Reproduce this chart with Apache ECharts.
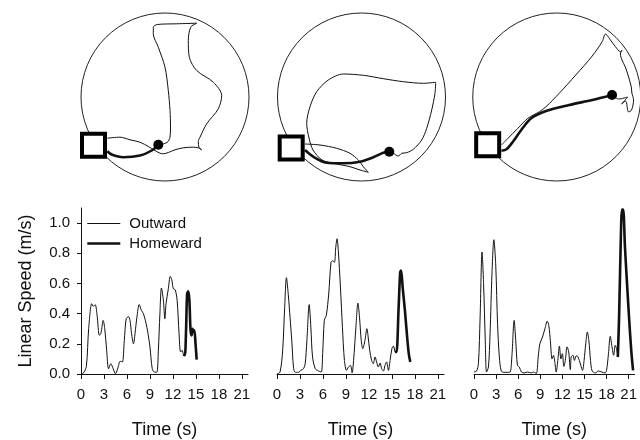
<!DOCTYPE html>
<html>
<head>
<meta charset="utf-8">
<script src="https://cdn.jsdelivr.net/npm/echarts@6/dist/echarts.min.js"></script>
<style>
    html, body { margin: 0; padding: 0; background: #fff; }
    #chart-container { width: 640px; height: 440px; }
</style>
</head>
<body>
<div id="chart-container"></div>
<script>
// arena tracks: x/y measured from the arena centre (arena radius = 84)
var outTrack1 = [[-57.7,-41.2],[-45,-40.2],[-35,-42.8],[-25,-45.2],[-16.7,-49.5],[-10,-53.5],[-5,-56.2],[-1.7,-56.8],[3.3,-55.5],[10,-52.8],[18.3,-50.8],[28.3,-50.2],[33.3,-50.8],[36.7,-52.8],[34,-50.5],[33.3,-44.5],[35,-40.2],[41.7,-26.8],[53.3,-11.8],[56.7,1.5],[48.3,14.8],[31.7,26.5],[24.3,39.8],[23.3,56.5],[25.7,69.8],[31.7,73.8],[11.7,73.2],[-7.7,72.5],[-11.7,69.8],[-11.7,63.2],[-6.7,49.8],[0,29.8],[3.3,6.5],[5,-13.5],[5.5,-30],[5,-40],[2,-45.5],[-6.7,-47.8]];
var homeTrack1 = [[-6.7,-47.8],[-13.3,-53.5],[-25,-58.5],[-41.7,-60.2],[-53.3,-57.5],[-57.7,-54.2]];
var outTrack2 = [[-56.5,-47],[-41.5,-48],[-24.8,-51.3],[-11.5,-56.3],[-3.2,-63],[1.8,-69.7],[6.8,-75.3],[-1.5,-73],[-11.5,-69.7],[-28.2,-66.3],[-39.5,-63],[-48.5,-53],[-52.5,-41],[-54.8,-26.3],[-51.5,-9.7],[-44.8,5.3],[-33.2,17],[-18.2,23],[1.8,21.7],[21.8,18.3],[41.8,15.3],[61.8,13.7],[74.2,14.7],[73.5,3.7],[70.2,-13],[65.2,-31.3],[60.2,-43],[51.8,-52.3],[45.2,-55.7],[40.2,-56.3],[36.8,-59],[31.8,-56.3],[27.8,-54.7]];
var homeTrack2 = [[27.8,-54.7],[21.8,-55.7],[11.8,-60.3],[-1.5,-64.7],[-18.2,-66.3],[-34.8,-65.7],[-48.2,-59.7],[-56.5,-53]];
var outTrack3 = [[-55.8,-48],[-49.2,-41.3],[-39.2,-31.3],[-29.2,-21.3],[-17.5,-14.7],[-10.8,-9.7],[2.5,3.7],[19.2,22],[35.8,41],[45.8,55.3],[49.2,63],[54.2,57],[59.2,50.3],[64.2,45.3],[65.8,46.7],[64.2,43],[65.8,37],[69.2,30],[72.5,20],[75.2,10],[75.8,4],[77.5,-3],[75.5,-13],[72.5,-15],[69.5,-4],[65.5,-7],[71.5,0],[62.5,-2],[55.8,2]];
var homeTrack3 = [[55.8,2],[35.8,-3],[12.5,-8],[-10.8,-14],[-25.8,-21.3],[-35.8,-33],[-44.2,-44.7],[-50.8,-52.3],[-55.8,-53.7]];
var nests = [[-71.5,-48.2],[-70.3,-51],[-69.7,-47.7]];
var foods = [[-6.7,-47.8],[27.8,-54.7],[55.8,2]];

// linear speed (m/s) against time (s)
var outSpeed1 = [[0,0],[0.3,0.005],[0.7,0.05],[1.0,0.3],[1.4,0.466],[1.6,0.448],[1.85,0.46],[2.1,0.39],[2.4,0.256],[2.6,0.27],[2.9,0.355],[3.1,0.3],[3.35,0.157],[3.6,0.035],[3.9,0.068],[4.2,0.035],[4.5,0.002],[4.85,0.046],[5.1,0.084],[5.4,0.08],[5.65,0.22],[5.9,0.366],[6.2,0.38],[6.4,0.355],[6.6,0.267],[6.85,0.2],[7.05,0.267],[7.3,0.377],[7.6,0.46],[7.9,0.42],[8.15,0.4],[8.6,0.31],[9.0,0.18],[9.3,0.035],[9.6,0.012],[9.9,0.012],[10.1,0.157],[10.3,0.4],[10.5,0.57],[10.75,0.49],[10.95,0.366],[11.1,0.466],[11.4,0.565],[11.65,0.647],[11.85,0.625],[12.05,0.565],[12.3,0.558],[12.55,0.488],[12.8,0.267],[13.0,0.146],[13.2,0.157],[13.35,0.13]];
var homeSpeed1 = [[13.35,0.13],[13.55,0.124],[13.7,0.267],[13.85,0.53],[14.0,0.548],[14.15,0.488],[14.3,0.29],[14.45,0.256],[14.55,0.3],[14.7,0.28],[14.8,0.29],[14.95,0.2],[15.1,0.095]];
var outSpeed2 = [[0,0],[0.4,0.013],[0.74,0.157],[1.0,0.44],[1.23,0.638],[1.5,0.51],[1.7,0.377],[1.93,0.22],[2.15,0.046],[2.37,0.011],[2.8,0.011],[3.1,0.024],[3.46,0.035],[3.68,0.068],[3.9,0.22],[4.2,0.46],[4.42,0.31],[4.64,0.113],[5.0,0.035],[5.43,0.02],[5.78,0.013],[5.96,0.135],[6.18,0.355],[6.44,0.39],[6.75,0.53],[7.05,0.74],[7.27,0.75],[7.5,0.74],[7.67,0.84],[7.84,0.896],[8.0,0.82],[8.28,0.576],[8.54,0.31],[8.8,0.09],[9.07,0.024],[9.33,0.046],[9.6,0.057],[9.8,0.007],[10.0,0.09],[10.3,0.31],[10.56,0.47],[10.77,0.377],[11.0,0.22],[11.2,0.168],[11.47,0.22],[11.74,0.3],[11.9,0.245],[12.1,0.157],[12.35,0.09],[12.57,0.068],[12.8,0.113],[13.0,0.08],[13.23,0.046],[13.45,0.073],[13.67,0.035],[13.9,0.02],[14.1,0.057],[14.3,0.08],[14.55,0.024],[14.76,0.09],[15.0,0.168],[15.2,0.185],[15.4,0.146]];
var homeSpeed2 = [[15.4,0.146],[15.6,0.146],[15.86,0.42],[16.08,0.675],[16.2,0.686],[16.4,0.576],[16.7,0.42],[16.95,0.267],[17.2,0.135],[17.4,0.08]];
var outSpeed3 = [[0,0.013],[0.35,0.02],[0.6,0.068],[0.83,0.377],[1.09,0.808],[1.3,0.6],[1.53,0.22],[1.7,0.013],[1.96,0.046],[2.18,0.267],[2.44,0.665],[2.7,0.89],[2.96,0.71],[3.2,0.33],[3.44,0.113],[3.7,0.02],[4.05,0.011],[4.5,0.011],[4.9,0.013],[5.14,0.113],[5.45,0.355],[5.67,0.22],[5.9,0.057],[6.15,0.046],[6.45,0.013],[6.8,0.007],[7.3,0.013],[7.76,0.007],[8.1,0.013],[8.46,0.002],[8.72,0.113],[8.94,0.2],[9.3,0.245],[9.63,0.3],[9.94,0.35],[10.16,0.32],[10.37,0.22],[10.6,0.1],[10.8,0.124],[11.0,0.068],[11.16,0.013],[11.38,0.09],[11.6,0.185],[11.8,0.1],[12.0,0.135],[12.2,0.05],[12.4,0.09],[12.64,0.18],[12.86,0.146],[13.08,0.029],[13.2,0.113],[13.43,0.124],[13.64,0.09],[13.86,0.12],[14.08,0.117],[14.3,0.09],[14.5,0.057],[14.73,0.024],[14.95,0.09],[15.17,0.2],[15.39,0.278],[15.6,0.22],[15.82,0.09],[16.04,0.02],[16.48,0.007],[16.9,0.02],[17.35,0.013],[17.8,0.007],[18.0,0.024],[18.26,0.135],[18.5,0.25],[18.74,0.18],[18.96,0.124],[19.18,0.19],[19.35,0.168],[19.53,0.113]];
var homeSpeed3 = [[19.53,0.113],[19.7,0.377],[19.9,0.82],[20.1,1.09],[20.25,1.09],[20.5,0.84],[20.7,0.665],[21.05,0.377],[21.35,0.157],[21.6,0.024]];

var timeTicks = [0, 3, 6, 9, 12, 15, 18, 21];
var speedTicks = [0, 0.2, 0.4, 0.6, 0.8, 1.0];

var outTracks = [outTrack1, outTrack2, outTrack3];
var homeTracks = [homeTrack1, homeTrack2, homeTrack3];
var outSpeeds = [outSpeed1, outSpeed2, outSpeed3];
var homeSpeeds = [homeSpeed1, homeSpeed2, homeSpeed3];

var font = 'Liberation Sans, Arial, sans-serif';
var ink = '#111';

var chartDom = document.getElementById('chart-container');
var myChart = echarts.init(chartDom);
var option;

var grids = [], xAxes = [], yAxes = [], series = [];
var panelLeft = [81, 277, 474];
var arenaLeft = [81, 277.5, 473.5];

for (var i = 0; i < 3; i++) {
    // speed panel
    grids.push({left: panelLeft[i], top: 208, width: 167, height: 167});
    xAxes.push({
        type: 'value', gridIndex: i, min: 0, max: 21.8,
        name: 'Time (s)', nameLocation: 'middle', nameGap: 47,
        nameTextStyle: {fontFamily: font, fontSize: 18, color: ink},
        axisLine: {lineStyle: {color: ink, width: 1}},
        axisTick: {customValues: timeTicks, length: 5, lineStyle: {color: ink}},
        axisLabel: {customValues: timeTicks, margin: 13, fontFamily: font, fontSize: 15, color: ink},
        splitLine: {show: false}
    });
    yAxes.push({
        type: 'value', gridIndex: i, min: 0, max: 1.1, show: i === 0,
        name: 'Linear Speed (m/s)', nameLocation: 'middle', nameGap: 46,
        nameTextStyle: {fontFamily: font, fontSize: 18, color: ink},
        axisLine: {show: true, lineStyle: {color: ink, width: 1}},
        axisTick: {customValues: speedTicks, length: 4, lineStyle: {color: ink}},
        axisLabel: {
            customValues: speedTicks, margin: 11, fontFamily: font, fontSize: 15, color: ink,
            formatter: function (value) { return value.toFixed(1); }
        },
        splitLine: {show: false}
    });
    series.push({
        type: 'line', name: 'Outward', xAxisIndex: i, yAxisIndex: i,
        data: outSpeeds[i], symbol: 'none', smooth: 0.3, clip: false,
        itemStyle: {color: ink}, lineStyle: {color: ink, width: 1}, z: 2
    });
    series.push({
        type: 'line', name: 'Homeward', xAxisIndex: i, yAxisIndex: i,
        data: homeSpeeds[i], symbol: 'none', smooth: 0.3, clip: false,
        itemStyle: {color: ink}, lineStyle: {color: ink, width: 2.6}, z: 3
    });
}

for (var j = 0; j < 3; j++) {
    // arena panel
    var g = 3 + j;
    grids.push({left: arenaLeft[j], top: 13, width: 168, height: 168});
    xAxes.push({type: 'value', gridIndex: g, min: -84, max: 84, show: false});
    yAxes.push({type: 'value', gridIndex: g, min: -84, max: 84, show: false});
    series.push({
        type: 'scatter', name: 'arena', xAxisIndex: g, yAxisIndex: g,
        data: [[0, 0]], symbol: 'circle', symbolSize: 168, silent: true,
        itemStyle: {color: 'rgba(0,0,0,0)', borderColor: '#222', borderWidth: 1, opacity: 1}, z: 1
    });
    series.push({
        type: 'line', name: 'Outward', xAxisIndex: g, yAxisIndex: g,
        data: outTracks[j], symbol: 'none', smooth: 0.3,
        itemStyle: {color: ink}, lineStyle: {color: ink, width: 1}, z: 2
    });
    series.push({
        type: 'line', name: 'Homeward', xAxisIndex: g, yAxisIndex: g,
        data: homeTracks[j], symbol: 'none', smooth: 0.3,
        itemStyle: {color: ink}, lineStyle: {color: ink, width: 2.6}, z: 3
    });
    series.push({
        type: 'scatter', name: 'nest', xAxisIndex: g, yAxisIndex: g,
        data: [nests[j]], symbol: 'rect', symbolSize: 23, silent: true,
        itemStyle: {color: '#fff', borderColor: '#000', borderWidth: 4, opacity: 1}, z: 5
    });
    series.push({
        type: 'scatter', name: 'food', xAxisIndex: g, yAxisIndex: g,
        data: [foods[j]], symbol: 'circle', symbolSize: 10, silent: true,
        itemStyle: {color: '#000', opacity: 1}, z: 5
    });
}

option = {
    animation: false,
    backgroundColor: '#fff',
    legend: {
        data: ['Outward', 'Homeward'],
        orient: 'vertical',
        left: 81,
        top: 211,
        itemWidth: 33,
        itemHeight: 14,
        itemGap: 5,
        itemStyle: {opacity: 0},
        lineStyle: {width: 'inherit'},
        textStyle: {fontFamily: font, fontSize: 15, color: ink, padding: [0, 0, 0, 4]}
    },
    grid: grids,
    xAxis: xAxes,
    yAxis: yAxes,
    series: series
};

option && myChart.setOption(option);
</script>
</body>
</html>
